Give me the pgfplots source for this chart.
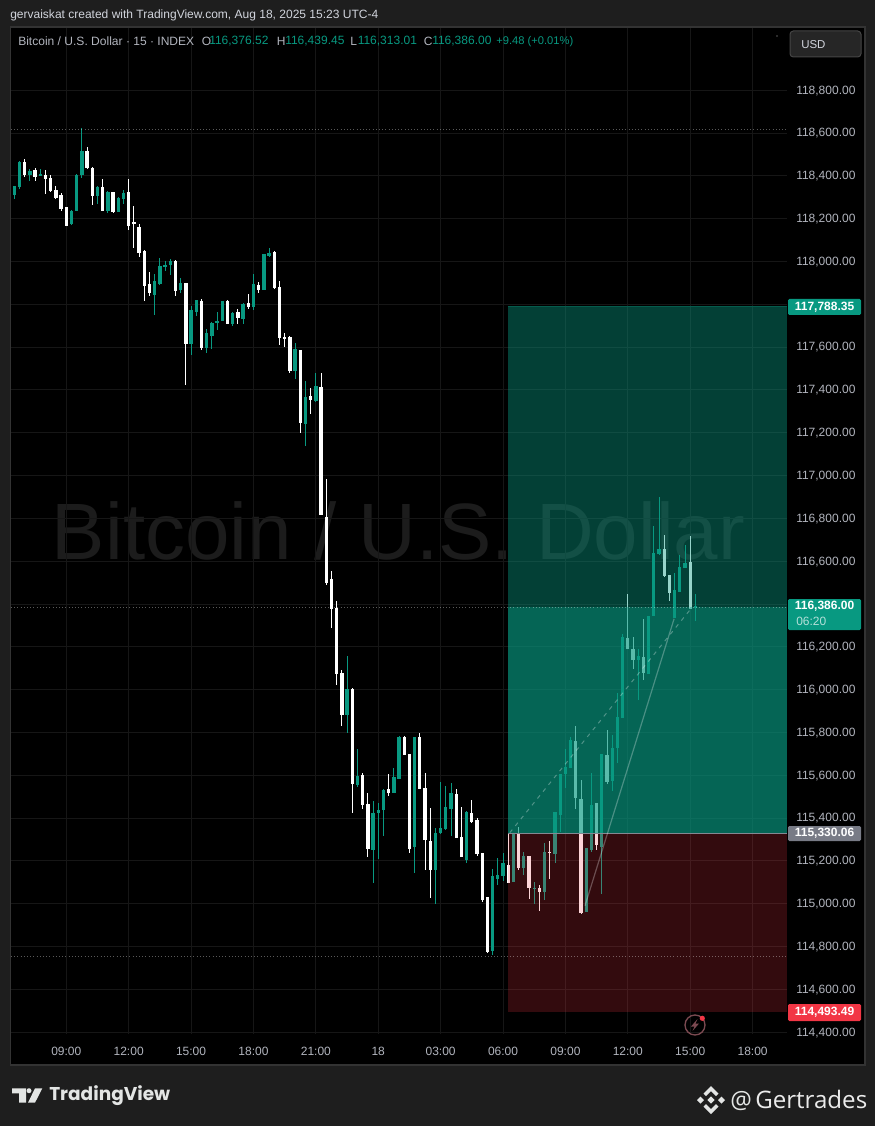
\documentclass[border=0pt]{standalone}
\usepackage{graphicx}
\usepackage{fontspec}
\setmainfont{Liberation Sans}
\newfontfamily\pop{Poppins}
\newfontfamily\osans{Open Sans}
\usepackage{pgfplots}
\usepackage{pgfplotstable}
\pgfplotsset{compat=1.18}

\definecolor{page}{HTML}{1E1E1E}
\definecolor{pane}{HTML}{000000}
\definecolor{paneline}{HTML}{333333}
\definecolor{gridc}{HTML}{161616}
\definecolor{wm}{HTML}{1C1C1C}
\definecolor{up}{HTML}{089981}
\definecolor{down}{HTML}{F23645}
\definecolor{lab}{HTML}{B2B5BE}
\definecolor{tagg}{HTML}{787B86}
\definecolor{hdr}{HTML}{D1D4DC}
\definecolor{logo}{HTML}{E3E5E4}

% candles, t = 15 min bars counted from 09:00
\pgfplotstableread{
t O H L C
-10 118307 118349 118287 118349
-9 118343 118463 118333 118458
-7 118400 118424 118369 118416
-5 118396 118427 118396 118399
1 118167 118234 118167 118231
2 118229 118400 118229 118397
3 118396 118618 118385 118508
6 118302 118346 118265 118343
8 118228 118321 118221 118318
10 118223 118295 118223 118293
11 118287 118327 118265 118315
17 117840 117933 117742 117905
18 117887 118011 117885 117975
19 117972 117996 117952 117977
20 117975 118006 117930 117996
22 117860 117918 117848 117894
24 117606 117785 117555 117767
25 117760 117817 117742 117815
27 117588 117680 117567 117658
28 117648 117711 117588 117708
29 117708 117760 117676 117714
30 117714 117809 117714 117807
32 117704 117757 117695 117754
34 117726 117798 117704 117795
36 117782 117933 117767 117887
38 117859 118031 117859 118030
39 118019 118059 118017 118034
44 117482 117614 117443 117583
46 117237 117435 117131 117363
48 117342 117471 117339 117412
54 115874 116151 115793 115998
56 115548 115718 115540 115590
59 115248 115473 115092 115419
60 115416 115463 115201 115433
61 115431 115533 115310 115523
63 115509 115626 115509 115584
64 115579 115777 115579 115774
67 115260 115774 115136 115771
71 115154 115349 114991 115326
72 115324 115564 115322 115349
73 115344 115543 115336 115445
74 115438 115559 115310 115511
77 115198 115427 115184 115425
82 114773 115154 114754 115122
83 115111 115206 115084 115126
84 115123 115229 115098 115184
86 115095 115326 115095 115322
88 115162 115235 115128 115217
90 115065 115097 114991 115069
92 115050 115279 115011 115237
94 115229 115422 115185 115422
95 115408 115598 115326 115598
96 115598 115715 115536 115632
97 115628 115774 115628 115758
100 114955 115256 114955 115256
101 115245 115603 115235 115453
103 115256 115692 115038 115692
105 115567 115780 115520 115723
106 115723 115976 115653 115864
107 115859 116252 115859 116238
110 116133 116182 115945 116154
112 116068 116340 116068 116340
113 116337 116758 116337 116630
114 116628 116895 116625 116652
117 116330 116540 116330 116459
118 116449 116621 116449 116565
119 116560 116669 116560 116586
121 116376.52 116439.45 116313.01 116386.00
}\upbars

\pgfplotstableread{
t O H L C
-8 118458 118470 118390 118400
-6 118419 118430 118371 118390
-4 118397 118421 118310 118377
-3 118383 118397 118321 118321
-2 118330 118349 118287 118291
-1 118307 118315 118231 118237
0 118248 118251 118162 118162
4 118508 118528 118428 118428
5 118430 118433 118256 118302
7 118344 118379 118228 118228
9 118315 118318 118218 118224
12 118321 118379 118140 118162
13 118176 118256 118059 118171
14 118154 118167 118014 118034
15 118042 118049 117807 117879
16 117887 117946 117832 117848
21 117996 117999 117832 117859
23 117893 117896 117418 117606
26 117809 117817 117583 117591
31 117809 117813 117704 117704
33 117760 117774 117704 117728
35 117798 117840 117770 117782
37 117882 117899 117845 117859
40 118038 118045 117868 117868
41 117877 117904 117606 117639
42 117639 117661 117594 117634
43 117641 117645 117471 117480
45 117578 117580 117194 117237
47 117363 117405 117284 117345
49 117410 117473 116808 116812
50 116803 116976 116481 116493
51 116509 116546 116282 116372
52 116373 116406 116014 116065
53 116070 116088 115824 115874
55 115998 116003 115416 115551
57 115593 115606 115434 115453
58 115458 115509 115212 115248
62 115528 115598 115497 115509
65 115774 115777 115687 115687
66 115691 115691 115229 115251
68 115771 115793 115528 115528
69 115533 115603 115151 115290
70 115290 115439 115022 115151
75 115509 115528 115301 115301
76 115304 115444 115212 115212
78 115420 115481 115371 115378
79 115385 115396 115217 115227
80 115234 115234 115005 115011
81 115023 115023 114765 114770
85 115173 115322 115092 115092
87 115322 115354 115150 115162
89 115215 115215 115017 115065
91 115065 115079 114960 115048
93 115237 115285 115108 115234
98 115754 115824 115438 115489
99 115484 115572 114944 114952
102 115463 115463 115245 115266
104 115687 115804 115551 115564
108 116236 116439 116185 116185
109 116186 116241 116091 116135
111 116146 116325 116041 116070
115 116653 116714 116521 116524
116 116529 116529 116407 116446
120 116588 116711 116372 116372
}\downbars

\pgfplotsset{
  wick/.style={draw=none,no markers,forget plot,
    error bars/.cd,y dir=both,y explicit,error mark=none,
    error bar style={draw=#1,line width=0.75pt,line cap=butt,solid}},
  body/.style={draw=none,no markers,forget plot,
    error bars/.cd,y dir=both,y explicit,error mark=none,
    error bar style={draw=#1,line width=2.5pt,line cap=butt,solid}},
}

\begin{document}
\begin{tikzpicture}
  \useasboundingbox (0,0) rectangle (656.25pt,-844.5pt);
  \begin{scope}[x=0.75pt,y=-0.75pt]
    \fill[page] (0,0) rectangle (875,1126);
    \fill[pane,draw=paneline,line width=0.9pt] (10.5,27) rectangle (865,1065);
    \node[wm,inner sep=0,anchor=center] at (398.5,531)
      {\resizebox{519.75pt}{!}{\fontsize{63}{70}\selectfont Bitcoin / U.S. Dollar}};
  \end{scope}

  \begin{axis}[
      at={(8.25pt,-775.3pt)},anchor=south west,
      scale only axis,width=582pt,height=754.5pt,
      xmin=-10.63,xmax=138.62,ymin=114393,ymax=119092,
      axis line style={draw=none},
      major tick length=0pt,
      grid=major,grid style={gridc,line width=0.75pt},
      xtick={0,12,...,132},
      xticklabels={09:00,12:00,15:00,18:00,21:00,18,03:00,06:00,09:00,12:00,15:00,18:00},
      ytick={114400,114600,114800,115000,115200,115400,115600,115800,116000,116200,116400,116600,116800,117000,117200,117400,117600,117800,118000,118200,118400,118600,118800},
      yticklabels={{114,400.00},{114,600.00},{114,800.00},{115,000.00},{115,200.00},{115,400.00},{115,600.00},{115,800.00},{116,000.00},{116,200.00},{},{116,600.00},{116,800.00},{117,000.00},{117,200.00},{117,400.00},{117,600.00},{},{118,000.00},{118,200.00},{118,400.00},{118,600.00},{118,800.00}},
      yticklabel pos=right,
      yticklabel style={anchor=west,inner sep=0pt,xshift=6.75pt,yshift=-0.3pt,
        font=\fontsize{9}{11}\selectfont,text=lab},
      xticklabel style={anchor=center,inner sep=0pt,yshift=-13pt,
        font=\fontsize{9}{11}\selectfont,text=lab},
      clip=true,
    ]
    % wicks then bodies, green and white; +7 = reading offset of the crops
    \addplot[wick=up] table[x=t,y expr=(\thisrow{H}+\thisrow{L})/2+7,y error expr=(\thisrow{H}-\thisrow{L})/2] {\upbars};
    \addplot[body=up] table[x=t,y expr=(\thisrow{O}+\thisrow{C})/2+7,y error expr=abs(\thisrow{C}-\thisrow{O})/2] {\upbars};
    \addplot[wick=white] table[x=t,y expr=(\thisrow{H}+\thisrow{L})/2+7,y error expr=(\thisrow{H}-\thisrow{L})/2] {\downbars};
    \addplot[body=white] table[x=t,y expr=(\thisrow{O}+\thisrow{C})/2+7,y error expr=abs(\thisrow{C}-\thisrow{O})/2] {\downbars};

    % long position boxes, see-through over the candles
    \addplot[fill=up,fill opacity=0.42,draw=none,forget plot] coordinates
      {(84.94,115330.06) (138.62,115330.06) (138.62,117788.35) (84.94,117788.35)} --cycle;
    \addplot[fill=up,fill opacity=0.42,draw=none,forget plot] coordinates
      {(84.94,115330.06) (138.62,115330.06) (138.62,116386) (84.94,116386)} --cycle;
    \addplot[fill=down,fill opacity=0.21,draw=none,forget plot] coordinates
      {(84.94,114493.49) (138.62,114493.49) (138.62,115330.06) (84.94,115330.06)} --cycle;
    \addplot[color=up!60!black,line width=0.6pt,forget plot] coordinates {(84.94,117788.35) (138.62,117788.35)};
    \addplot[color=tagg!90!white,line width=0.75pt,forget plot] coordinates {(84.94,115330.06) (138.62,115330.06)};

    % trend lines
    \addplot[color=white,opacity=0.3,line width=0.75pt,dash pattern=on 3pt off 3.6pt,forget plot]
      coordinates {(85.3,115332) (120.4,116386)};
    \addplot[color=white,opacity=0.28,line width=0.9pt,forget plot]
      coordinates {(99.77,114991) (116.9,116331)};

    % dotted levels
    \addplot[color=white,opacity=0.35,line width=0.6pt,dash pattern=on 0.8pt off 1.6pt,forget plot]
      coordinates {(-10.63,118616) (138.62,118616)};
    \addplot[color=white,opacity=0.35,line width=0.6pt,dash pattern=on 0.8pt off 1.6pt,forget plot]
      coordinates {(-10.63,116386) (138.62,116386)};
    \addplot[color=white,opacity=0.35,line width=0.6pt,dash pattern=on 0.8pt off 1.6pt,forget plot]
      coordinates {(-10.63,114753) (138.62,114753)};
  \end{axis}

  \begin{scope}[x=0.75pt,y=-0.75pt,every node/.append style={inner sep=0,font=\fontsize{9}{11}\selectfont}]
    % header
    \node[hdr,anchor=west] at (10,15)
      {\resizebox{276pt}{!}{gervaiskat created with TradingView.com, Aug 18, 2025 15:23 UTC-4}};
    \node[lab,anchor=west] at (18,41.5)
      {\resizebox{132pt}{!}{Bitcoin / U.S. Dollar · 15 · INDEX}};
    \node[lab,anchor=west] at (201.7,41.5) {O};
    \node[up,anchor=west] at (209,41.5) {116,376.52};
    \node[lab,anchor=west] at (276.5,41.5) {H};
    \node[up,anchor=west] at (285,41.5) {116,439.45};
    \node[lab,anchor=west] at (350,41.5) {L};
    \node[up,anchor=west] at (357.5,41.5) {116,313.01};
    \node[lab,anchor=west] at (423.5,41.5) {C};
    \node[up,anchor=west] at (432,41.5) {116,386.00};
    \node[up,anchor=west] at (496,41.5) {\resizebox{57.75pt}{!}{+9.48 (+0.01\%)}};
    \fill[white!35!black] (777,36) circle (0.8);
    % currency button
    \draw[fill=black!85!white,draw=white!27!black,line width=0.75pt,rounded corners=2.5pt] (790,31) rectangle (861,57);
    \node[hdr,anchor=west,font=\fontsize{8.6}{10}\selectfont] at (801,44.5) {USD};

    % price tags
    \fill[up,rounded corners=1pt] (788,299) rectangle (861,315);
    \node[white,font=\bfseries\fontsize{9}{11}\selectfont] at (824.5,307) {117,788.35};
    \fill[up,rounded corners=1pt] (788,599) rectangle (861,630);
    \node[white,font=\bfseries\fontsize{9}{11}\selectfont] at (824.5,606.5) {116,386.00};
    \node[white!70!up,anchor=west,font=\fontsize{9}{11}\selectfont] at (796,621) {06:20};
    \fill[tagg,rounded corners=1pt] (788,826) rectangle (861,841);
    \node[white,font=\bfseries\fontsize{9}{11}\selectfont] at (824.5,833.5) {115,330.06};
    \fill[down,rounded corners=1pt] (788,1004) rectangle (861,1021);
    \node[white,font=\bfseries\fontsize{9}{11}\selectfont] at (824.5,1012.5) {114,493.49};

    % alert icon
    \draw[color=down!45!lab!60!black,line width=1pt] (695,1025) circle (10);
    \fill[color=down!45!lab!60!black] (697.5,1019) -- (691,1026.5) -- (694.5,1026.5) -- (692.5,1031) -- (699,1023.5) -- (695.5,1023.5) -- cycle;
    \fill[down] (702.3,1018.3) circle (2.6);

    % TradingView logo
    \fill[logo] (12,1088.3) -- (26,1088.3) -- (26,1102.7) -- (19,1102.7) -- (19,1093.3) -- (12,1093.3) -- cycle;
    \fill[logo] (29,1090.7) circle (2.5);
    \fill[logo] (35,1088.3) -- (42.3,1088.3) -- (35,1102.7) -- (28,1102.7) -- cycle;
    \node[logo,anchor=west] at (49,1096)
      {\resizebox{90.75pt}{!}{\pop\bfseries\fontsize{15}{18}\selectfont TradingView}};

    % binance mark and handle
    \begin{scope}[shift={(711,1100)},fill=logo]
      \fill (0,-3.6) -- (3.6,0) -- (0,3.6) -- (-3.6,0) -- cycle;
      \fill (-10.5,-3.5) -- (-7,0) -- (-10.5,3.5) -- (-14,0) -- cycle;
      \fill (10.5,-3.5) -- (14,0) -- (10.5,3.5) -- (7,0) -- cycle;
      \fill (0,-14) -- (7.5,-6.5) -- (5,-4) -- (0,-9) -- (-5,-4) -- (-7.5,-6.5) -- cycle;
      \fill (0,14) -- (7.5,6.5) -- (5,4) -- (0,9) -- (-5,4) -- (-7.5,6.5) -- cycle;
    \end{scope}
    \node[logo,anchor=base west] at (730,1108)
      {\osans\fontsize{18}{22}\selectfont @};
    \node[white!92!black,anchor=base west] at (755,1108)
      {\resizebox{84pt}{!}{\osans\fontsize{18}{22}\selectfont Gertrades}};
  \end{scope}
\end{tikzpicture}
\end{document}
